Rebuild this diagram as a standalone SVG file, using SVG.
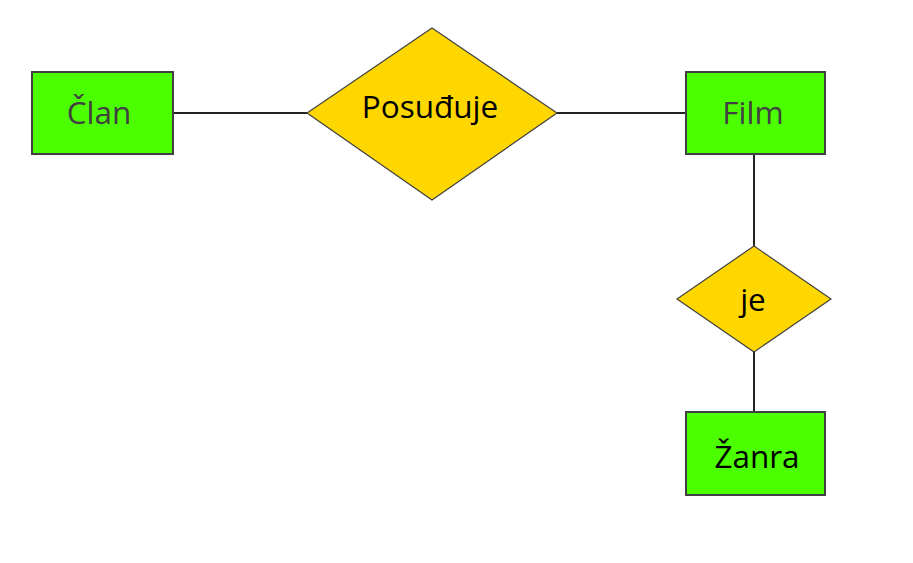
<svg xmlns="http://www.w3.org/2000/svg" width="913" height="563" viewBox="0 0 913 563">
<style>
.ent{fill:#4cff00;stroke:#404040;stroke-width:2}
.rel{fill:#ffd700;stroke:#404040;stroke-width:1.2}
.conn line{stroke:#222;stroke-width:2}
text{font-family:"Open Sans","Noto Sans",sans-serif;font-size:31.5px;text-anchor:middle;dominant-baseline:central}
.grey{fill:#404040}
.blk{fill:#000}
</style>
<rect width="913" height="563" fill="#fff"/>
<g id="connectors" class="conn">
<line x1="173" y1="113" x2="307" y2="113"/>
<line x1="557" y1="113" x2="686" y2="113"/>
<line x1="754" y1="154" x2="754" y2="246"/>
<line x1="754" y1="352" x2="754" y2="412"/>
</g>
<g id="clan">
<rect class="ent" x="32" y="72" width="141" height="82"/>
<text class="grey" x="99" y="111">Član</text>
</g>
<g id="posudjuje">
<polygon class="rel" points="432,28 557,113 432,200 307,113"/>
<text class="blk" x="430" y="105">Posuđuje</text>
</g>
<g id="film">
<rect class="ent" x="686" y="72" width="139" height="82"/>
<text class="grey" x="753" y="111">Film</text>
</g>
<g id="je">
<polygon class="rel" points="754,246 831,299 754,352 677,299"/>
<text class="blk" x="753" y="298">je</text>
</g>
<g id="zanra">
<rect class="ent" x="686" y="412" width="139" height="83"/>
<text class="blk" x="757" y="455">Žanra</text>
</g>
</svg>
